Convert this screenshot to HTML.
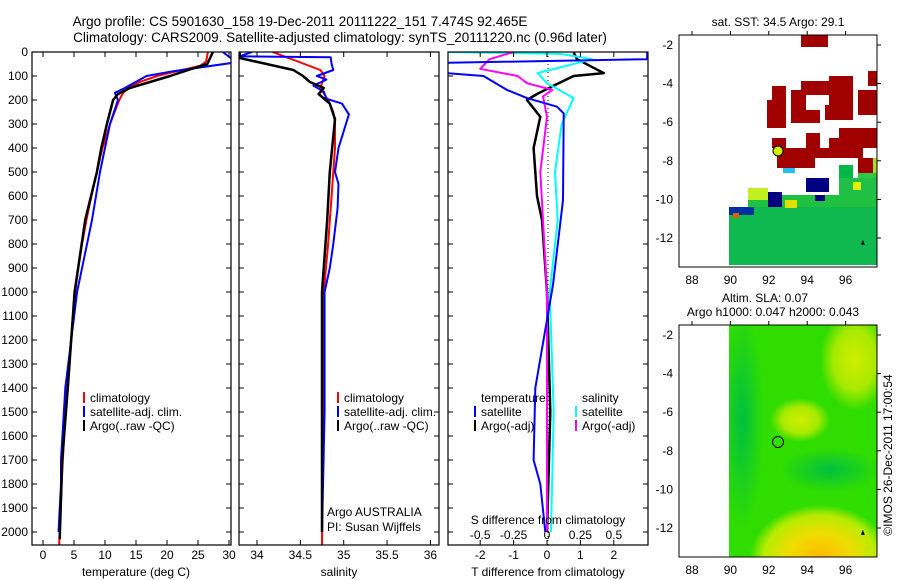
<!DOCTYPE html>
<html><head><meta charset="utf-8"><style>
html,body{margin:0;padding:0;background:#fff;}
svg{display:block;font-family:"Liberation Sans",sans-serif;}
text{font-size:12px;fill:#000;}
</style></head><body>
<svg id="fig" width="900" height="580" viewBox="0 0 900 580" xmlns="http://www.w3.org/2000/svg">
<text x="300" y="26" text-anchor="middle" style="font-size:13.5px">Argo profile: CS 5901630_158 19-Dec-2011 20111222_151 7.474S 92.465E</text>
<text x="340" y="42" text-anchor="middle" style="font-size:13.5px">Climatology: CARS2009. Satellite-adjusted climatology: synTS_20111220.nc (0.96d later)</text>
<g id="p1"></g>
<g id="p2"></g>
<g id="p3"></g>
<g id="m1">
<text x="778" y="26" text-anchor="middle">sat. SST: 34.5 Argo: 29.1</text>
<rect x="729" y="207" width="148" height="58" fill="#10b850"/>
<rect x="748" y="195" width="129" height="12" fill="#20c040"/>
<rect x="839" y="178" width="38" height="17" fill="#20c048"/>
<rect x="858" y="168" width="19" height="10" fill="#30c840"/>
<rect x="839" y="165" width="14" height="13" fill="#00b848"/>
<rect x="806" y="178" width="23" height="14" fill="#000080"/>
<rect x="768" y="192" width="14" height="15" fill="#000080"/>
<rect x="729" y="207" width="25" height="8" fill="#0030a0"/>
<rect x="748" y="188" width="20" height="12" fill="#c0f020"/>
<rect x="785" y="200" width="12" height="8" fill="#e0e000"/>
<rect x="733" y="213" width="6" height="5" fill="#e06000"/>
<rect x="783" y="168" width="12" height="5" fill="#20c0f0"/>
<rect x="791" y="158" width="5" height="10" fill="#f0c000"/>
<rect x="785" y="158" width="5" height="5" fill="#e07000"/>
<rect x="853" y="182" width="8" height="8" fill="#e0f000"/>
<rect x="815" y="195" width="10" height="6" fill="#000080"/>
<rect x="872" y="158" width="5" height="15" fill="#a0e020"/>
<g fill="#a00000">
<rect x="801" y="35" width="27" height="12"/><rect x="801" y="81" width="52" height="14"/><rect x="829" y="76" width="24" height="44"/>
<rect x="868" y="71" width="9" height="15"/><rect x="772" y="86" width="14" height="14"/><rect x="767" y="100" width="19" height="28"/>
<rect x="791" y="90" width="15" height="33"/><rect x="791" y="110" width="29" height="13"/><rect x="825" y="105" width="28" height="15"/>
<rect x="858" y="90" width="19" height="25"/><rect x="806" y="133" width="14" height="15"/><rect x="829" y="138" width="48" height="10"/>
<rect x="839" y="128" width="38" height="10"/><rect x="772" y="138" width="14" height="10"/><rect x="777" y="148" width="86" height="10"/>
<rect x="777" y="158" width="38" height="10"/><rect x="858" y="158" width="15" height="15"/><rect x="839" y="96" width="14" height="10"/>
</g>
<circle cx="778" cy="151" r="5" fill="#d0f000" stroke="#000"/>
<rect x="679" y="35" width="198" height="232" fill="none" stroke="#000"/>
</g>
<g id="m2">
<text x="765" y="302" text-anchor="middle">Altim. SLA: 0.07</text>
<text x="773" y="316" text-anchor="middle">Argo h1000: 0.047 h2000: 0.043</text>
<defs>
<radialGradient id="gy" cx="0.5" cy="0.5" r="0.5"><stop offset="0" stop-color="#ffb800"/><stop offset="0.45" stop-color="#f0dc00"/><stop offset="0.8" stop-color="#b8ec00"/><stop offset="1" stop-color="#b8ec00" stop-opacity="0"/></radialGradient>
<radialGradient id="gt" cx="0.5" cy="0.5" r="0.5"><stop offset="0" stop-color="#d0ee00"/><stop offset="0.6" stop-color="#a8ea00"/><stop offset="1" stop-color="#a8ea00" stop-opacity="0"/></radialGradient>
<radialGradient id="gd" cx="0.5" cy="0.5" r="0.5"><stop offset="0" stop-color="#00c040"/><stop offset="1" stop-color="#00c040" stop-opacity="0"/></radialGradient>
<clipPath id="m2clip"><rect x="729" y="325" width="148" height="232"/></clipPath>
</defs>
<g clip-path="url(#m2clip)">
<rect x="729" y="325" width="148" height="232" fill="#30dd00"/>
<ellipse cx="742" cy="420" rx="22" ry="110" fill="url(#gd)"/>
<ellipse cx="830" cy="470" rx="50" ry="22" fill="url(#gd)"/>
<ellipse cx="855" cy="360" rx="35" ry="50" fill="url(#gt)"/>
<ellipse cx="800" cy="420" rx="30" ry="22" fill="url(#gt)"/>
<ellipse cx="820" cy="557" rx="70" ry="52" fill="url(#gy)"/>
</g>
<circle cx="778" cy="442" r="5.5" fill="none" stroke="#000"/>
<rect x="679" y="325" width="198" height="232" fill="none" stroke="#000"/>
</g>
<text transform="translate(892,455) rotate(-90)" text-anchor="middle">©IMOS 26-Dec-2011 17:00:54</text>
</svg>
<script>
// ---- profile data ----
const depthTicks=[0,100,200,300,400,500,600,700,800,900,1000,1100,1200,1300,1400,1500,1600,1700,1800,1900,2000];
const tempTicks=[0,5,10,15,20,25,30];
const salTicks=[34,34.5,35,35.5,36];
const tdiffTicks=[-2,-1,0,1,2];
const sdiffTicks=[-0.5,-0.25,0,0.25,0.5];
const sdiffTickLabels=["-0.5","-0.25","0","0.25","0.5"];
const tClimDepth=[0,40,58,80,100,125,150,175,200,300,400,500,600,700,800,900,1000,1200,1400,1600,1800,2000,2055];
const tClim=[26.6,26.3,25.3,21.6,18.4,15.6,13.7,12.8,12.3,10.8,9.6,8.7,7.8,7.0,6.3,5.7,5.2,4.5,3.9,3.4,3.0,2.7,2.6];
const tSatDepth=[0,30,40,80,100,150,170,200,300,500,700,1000,1400,1700,1800,2000];
const tSat=[29,30.5,32,21,16.7,13.2,11.6,12.1,10.8,9.2,7.9,5.5,3.6,2.9,2.9,2.5];
const tArgoDepth=[0,50,70,100,150,175,200,300,400,500,700,1000,1400,1700,2030];
const tArgo=[27.4,26.5,24,20.5,14,12.1,11.3,10.3,9.4,8.7,6.8,5.1,4.0,3.1,2.7];
const sClimDepth=[0,75,100,150,200,250,300,400,600,800,1000,1500,2055];
const sClim=[34.18,34.73,34.78,34.73,34.82,34.88,34.9,34.9,34.86,34.82,34.77,34.76,34.75];
const sSatDepth=[0,18,22,50,75,100,115,140,165,195,215,260,400,500,550,650,800,900,1000,1500,2000];
const sSat=[33.94,33.8,34.85,34.86,34.88,34.69,34.8,34.65,34.77,34.8,34.98,35.06,34.94,34.9,34.94,34.93,34.88,34.84,34.78,34.78,34.75];
const sArgoDepth=[0,25,50,75,100,125,150,175,215,280,500,700,1000,2000];
const sArgo=[33.8,33.8,34.11,34.42,34.53,34.61,34.77,34.71,34.84,34.9,34.84,34.81,34.75,34.75];
const dtSatDepth=[0,30,45,60,88,100,158,192,228,256,617,970,1400,1700,1800,2000];
const dtSat=[3,3,-3,-3,-3,-1.9,-1.2,-0.6,0.3,0.5,0.48,0.18,-0.35,-0.4,-0.2,-0.05];
const dtArgoDepth=[2,30,88,100,140,175,200,270,400,600,700,1000,1500,2000];
const dtArgo=[0.8,0.9,1.7,0.8,0.2,-0.3,-0.6,-0.2,-0.4,-0.3,-0.15,0,0.1,0];
const dsSatDepth=[0,8,30,88,130,192,228,300,500,700,1000,1500,2000];
const dsSat=[-0.75,0.1,0.34,-0.07,0,0.2,0.17,0.11,0.06,0.08,0.02,0.05,0.03];
const dsArgoDepth=[0,30,70,100,130,158,185,270,500,1000,2000];
const dsArgo=[-0.25,-0.43,-0.5,-0.22,-0.15,0.04,-0.03,0,-0.05,0,0];

const NS="http://www.w3.org/2000/svg";
const TOP=52,BOT=545;
function y(d){return TOP+d*0.24;}
function mk(parent,tag,attrs){const e=document.createElementNS(NS,tag);for(const k in attrs)e.setAttribute(k,attrs[k]);parent.appendChild(e);return e;}
function txt(parent,x0,y0,s,anchor){const t=mk(parent,'text',{x:x0,y:y0,'text-anchor':anchor||'start'});t.textContent=s;return t;}
function frame(g,L,R){const r=mk(g,'rect',{x:L,y:TOP,width:R-L,height:BOT-TOP,fill:'none',stroke:'#000','stroke-width':1.2});
 
 
 depthTicks.forEach(d=>{mk(g,'line',{x1:L,x2:L+5,y1:y(d),y2:y(d),stroke:'#000'});mk(g,'line',{x1:R,x2:R-5,y1:y(d),y2:y(d),stroke:'#000'});});}
function xticks(g,vals,labels,fx,ly){vals.forEach((v,i)=>{const X=fx(v);mk(g,'line',{x1:X,x2:X,y1:TOP,y2:TOP+5,stroke:'#000'});mk(g,'line',{x1:X,x2:X,y1:BOT,y2:BOT-5,stroke:'#000'});
 const t=txt(g,X,ly,labels[i],'middle');
 
 });}
function line(g,ds,vs,fx,col,w,name){const pts=ds.map((d,i)=>fx(vs[i]).toFixed(1)+','+y(d).toFixed(1)).join(' ');
 const p=mk(g,'polyline',{points:pts,fill:'none',stroke:col,'stroke-width':w,'stroke-linejoin':'round'});
 
 }
function clip(g,id,L,R){const d=mk(g,'defs',{});const c=mk(d,'clipPath',{id:id});mk(c,'rect',{x:L,y:TOP,width:R-L,height:BOT-TOP});return mk(g,'g',{'clip-path':'url(#'+id+')'});}
function legend(g,x0,y0,items){items.forEach((it,i)=>{mk(g,'rect',{x:x0,y:y0+i*14-10,width:2,height:11,fill:it[1]});
 const t=txt(g,x0+7,y0+i*14,it[0]);
 
 });}

// panel 1 temperature
const p1=document.getElementById('p1');
const fT=v=>43+v*6.2;
const c1=clip(p1,'c1',32,231);
line(c1,tClimDepth,tClim,fT,'#f00',2,'temp-climatology-line');
line(c1,tSatDepth,tSat,fT,'#00f',2,'temp-satellite-line');
line(c1,tArgoDepth,tArgo,fT,'#000',2.5,'temp-argo-line');
frame(p1,32,231);
depthTicks.forEach(d=>{const t=txt(p1,28,y(d)+4,String(d),'end');
 
 });
xticks(p1,tempTicks,tempTicks.map(String),fT,559);
const a1=txt(p1,136,576,'temperature (deg C)','middle');


legend(p1,83,402,[['climatology','#f00'],['satellite-adj. clim.','#00f'],['Argo(..raw -QC)','#000']]);

// panel 2 salinity
const p2=document.getElementById('p2');
const fS=v=>257+(v-34)*86.7;
const c2=clip(p2,'c2',239,439);
line(c2,sClimDepth,sClim,fS,'#f00',2,'sal-climatology-line');
line(c2,sSatDepth,sSat,fS,'#00f',2,'sal-satellite-line');
line(c2,sArgoDepth,sArgo,fS,'#000',2.5,'sal-argo-line');
frame(p2,239,439);
xticks(p2,salTicks,salTicks.map(String),fS,559);
const a2=txt(p2,339,576,'salinity','middle');


legend(p2,337,402,[['climatology','#f00'],['satellite-adj. clim.','#00f'],['Argo(..raw -QC)','#000']]);
const ag=txt(p2,327,516,'Argo AUSTRALIA');


const pi=txt(p2,327,531,'PI: Susan Wijffels');



// panel 3 differences
const p3=document.getElementById('p3');
const fDT=v=>547+v*33.4;
const fDS=v=>547+v*133.6;
const c3=clip(p3,'c3',448,648);
mk(c3,'line',{x1:548,x2:548,y1:TOP,y2:BOT,stroke:'#000','stroke-dasharray':'1,3'});
line(c3,dtArgoDepth,dtArgo,fDT,'#000',2.5,'tdiff-argo-line');
line(c3,dsSatDepth,dsSat,fDS,'#0ff',2,'sdiff-satellite-line');
line(c3,dsArgoDepth,dsArgo,fDS,'#f0f',2,'sdiff-argo-line');
line(c3,dtSatDepth,dtSat,fDT,'#00f',2,'tdiff-satellite-line');
frame(p3,448,648);
xticks(p3,tdiffTicks,tdiffTicks.map(String),fDT,559);
sdiffTicks.forEach((v,i)=>{const t=txt(p3,fDS(v),539,sdiffTickLabels[i],'middle');
 
 });
const a3=txt(p3,548,524,'S difference from climatology','middle');


const a4=txt(p3,548,576,'T difference from climatology','middle');


const lt=txt(p3,481,402,'temperature');


const ls=txt(p3,582,402,'salinity');


legend(p3,474,416,[['satellite','#00f'],['Argo(-adj)','#000']]);
legend(p3,575,416,[['satellite','#0ff'],['Argo(-adj)','#f0f']]);

// map axes
const lonTicks=[88,90,92,94,96];
const latTicks=[-2,-4,-6,-8,-10,-12];
function mapAxes(id,top,bottom,lat0y){const g=document.getElementById(id);
 const fx=v=>692+(v-88)*19.2, fy=v=>lat0y+(-2-v)*19.3;
 lonTicks.forEach(v=>{mk(g,'line',{x1:fx(v),x2:fx(v),y1:top,y2:top-4,stroke:'#000'});
  const t=txt(g,fx(v),bottom+17,String(v),'middle');
  
  });
 latTicks.forEach(v=>{mk(g,'line',{x1:877,x2:881,y1:fy(v),y2:fy(v),stroke:'#000'});
  const t=txt(g,673,fy(v)+4,String(v),'end');
  
  });
 mk(g,'polygon',{points:(fx(96.9)-2)+','+(fy(-12.2)+3)+' '+(fx(96.9)+2)+','+(fy(-12.2)+3)+' '+fx(96.9)+','+(fy(-12.2)-2),fill:'#000'});}
mapAxes('m1',35,267,45);
mapAxes('m2',325,557,335);
</script>
</body></html>
